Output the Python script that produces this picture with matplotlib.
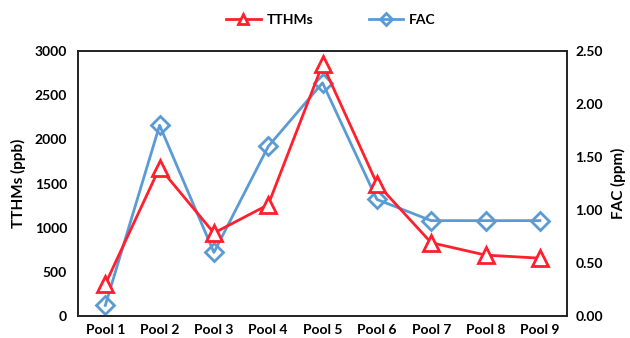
import matplotlib.pyplot as plt
import numpy as np

pools = ['Pool 1', 'Pool 2', 'Pool 3', 'Pool 4', 'Pool 5',
         'Pool 6', 'Pool 7', 'Pool 8', 'Pool 9']
tthms = [360, 1680, 940, 1260, 2850, 1500, 830, 690, 655]
fac = [0.10, 1.80, 0.60, 1.60, 2.20, 1.10, 0.90, 0.90, 0.90]

plt.rcParams['font.family'] = ['Lato', 'DejaVu Sans']
plt.rcParams['font.weight'] = 'bold'

red = '#FF1F2D'
blue = '#5B9BD5'

fig = plt.figure(figsize=(6.3, 3.38), dpi=100)
ax = fig.add_axes([0.124, 0.065, 0.776, 0.784])
ax2 = ax.twinx()

x = np.arange(len(pools))
l1, = ax.plot(x, tthms, color=red, lw=2, marker='^', ms=11,
              mfc='white', mec=red, mew=2, label='TTHMs', zorder=3)
l2, = ax2.plot(x, fac, color=blue, lw=2, marker='D', ms=9,
               mfc='none', mec=blue, mew=2, label='FAC', zorder=3)
ax.set_zorder(ax2.get_zorder() + 1)
ax.patch.set_visible(False)

ax.set_xlim(-0.5, 8.5)
ax.set_ylim(0, 3000)
ax2.set_ylim(0, 2.5)
ax.set_yticks(np.arange(0, 3001, 500))
ax2.set_yticks(np.arange(0, 2.51, 0.5))
ax2.set_yticklabels([f'{v:.2f}' for v in np.arange(0, 2.51, 0.5)])
ax.set_xticks(x)
ax.set_xticklabels(pools)

for a in (ax, ax2):
    a.tick_params(length=0, labelsize=10, pad=8)
    for s in a.spines.values():
        s.set_linewidth(1.2)
        s.set_color('#222222')
ax.tick_params(axis='x', pad=6)
ax2.tick_params(axis='y', pad=6)
for lab in ax.get_xticklabels() + ax.get_yticklabels() + ax2.get_yticklabels():
    lab.set_fontweight('bold')

ax.set_ylabel('TTHMs (ppb)', fontsize=11, fontweight='bold', labelpad=6)
ax2.set_ylabel('FAC (ppm)', fontsize=11, fontweight='bold', labelpad=6)

fig.legend(handles=[l1, l2], loc='center', bbox_to_anchor=(0.525, 0.94),
           ncol=2, frameon=False, columnspacing=4, markerscale=0.65,
           handlelength=2.5, handletextpad=0.4,
           prop={'weight': 'bold', 'size': 10})

fig.savefig('out.png', dpi=100)
